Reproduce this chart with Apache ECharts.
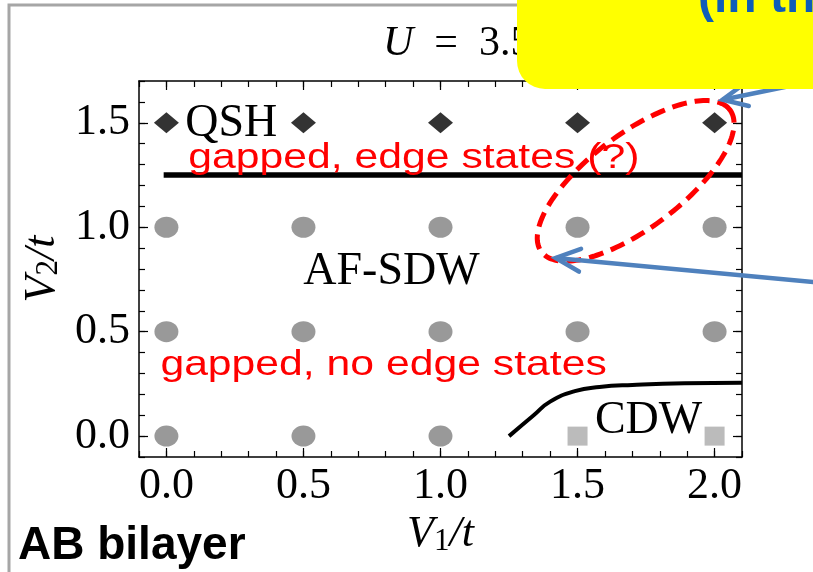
<!DOCTYPE html>
<html><head><meta charset="utf-8">
<script src="https://cdn.jsdelivr.net/npm/echarts@6/dist/echarts.min.js"></script>
<style>html,body{margin:0;padding:0;background:#fff}#c{width:813px;height:572px}</style>
</head><body><div id="c"></div>
<script>
// ---- data ----
const xTickLabels = [0, 0.5, 1, 1.5, 2];
const yTickLabels = [0, 0.5, 1, 1.5];
const qshPoints = [[0,1.5],[0.5,1.5],[1,1.5],[1.5,1.5],[2,1.5]];
const sdwPoints = [[0,1],[0.5,1],[1,1],[1.5,1],[2,1],[0,0.5],[0.5,0.5],[1,0.5],[1.5,0.5],[2,0.5],[0,0],[0.5,0],[1,0]];
const cdwPoints = [[1.5,0],[2,0]];
const upperBoundary = [[-0.01,1.25],[2.1,1.25]];
const lowerBoundary = [[1.25,0.0],[1.34,0.10],[1.40,0.165],[1.49,0.215],[1.58,0.235],[1.70,0.245],[1.89,0.253],[2.1,0.255]];
// annotation anchors (data coordinates)
const regionLabels = [
  {text:'QSH', at:[0.069,1.495], align:'left', size:46},
  {text:'AF-SDW', at:[0.821,0.786], align:'center', size:46},
  {text:'CDW', at:[1.759,0.072], align:'center', size:46}
];
const redNotes = [
  {text:'gapped, edge states (?)', at:[0.080,1.330]},
  {text:'gapped, no edge states', at:[-0.022,0.338]}
];
const ellipseCenter = [1.712, 1.222];
const arrows = [
  {tip:[1.420,0.853], tail:[2.361,0.738]},
  {tip:[2.029,1.610], tail:[2.314,1.687]}
];

const serif = '"Liberation Serif","DejaVu Serif",serif';
const sans = '"Liberation Sans",Arial,sans-serif';
const nameRich = {
  i:{fontFamily:serif, fontStyle:'italic', fontSize:44, color:'#000'},
  s:{fontFamily:serif, fontSize:31, color:'#000', verticalAlign:'bottom', lineHeight:44}
};
const lineCol = '#000';
function baseAxis(extra){
  return Object.assign({
    type:'value', splitLine:{show:false},
    axisLine:{show:true, onZero:false, lineStyle:{color:lineCol, width:1.5}},
    axisTick:{show:true, inside:true, length:6, lineStyle:{color:lineCol, width:1.2}},
    axisLabel:{show:false}
  }, extra);
}
const xr = {min:-0.1, max:2.1, interval:0.1};
const yr = {min:-0.1, max:1.7, interval:0.1};
const hiddenLine = {show:false, onZero:false};
function majorTicks(vals){ return {show:true, inside:true, length:9, customValues:vals, lineStyle:{color:lineCol,width:1.2}}; }
const option = {
  animation:false,
  backgroundColor:'#fff',
  title:{text:'{i|U}\u2002=\u20023.5', left:378, top:18,
    textStyle:{fontFamily:serif, fontSize:42, fontWeight:'normal', color:'#000',
      rich:{i:{fontFamily:serif, fontStyle:'italic', fontSize:42, color:'#000'}}}},
  grid:{left:139, right:71, top:81, bottom:115, containLabel:false, outerBoundsMode:'none'},
  xAxis:[
    baseAxis(Object.assign({position:'bottom',
      axisLabel:{show:true, customValues:xTickLabels, formatter:v=>v.toFixed(1), fontFamily:serif, fontSize:44, color:'#000', margin:7},
      name:'{i|V}{s|1}{i|/t}', nameLocation:'middle', nameGap:52, nameTextStyle:{rich:nameRich}}, xr)),
    baseAxis(Object.assign({position:'top'}, xr)),
    baseAxis(Object.assign({position:'bottom', axisLine:hiddenLine, axisTick:majorTicks(xTickLabels)}, xr)),
    baseAxis(Object.assign({position:'top', axisLine:hiddenLine, axisTick:majorTicks(xTickLabels)}, xr))
  ],
  yAxis:[
    baseAxis(Object.assign({position:'left',
      axisLabel:{show:true, customValues:yTickLabels, formatter:v=>v.toFixed(1), fontFamily:serif, fontSize:44, color:'#000', margin:9},
      name:'{i|V}{s|2}{i|/t}', nameLocation:'middle', nameRotate:90, nameGap:62, nameTextStyle:{rich:nameRich}}, yr)),
    baseAxis(Object.assign({position:'right'}, yr)),
    baseAxis(Object.assign({position:'left', axisLine:hiddenLine, axisTick:majorTicks(yTickLabels)}, yr)),
    baseAxis(Object.assign({position:'right', axisLine:hiddenLine, axisTick:majorTicks(yTickLabels)}, yr))
  ],
  series:[
    {type:'line', data:upperBoundary, showSymbol:false, symbol:'none', lineStyle:{color:'#000', width:5.5}, z:3},
    {type:'line', data:lowerBoundary, smooth:true, showSymbol:false, symbol:'none', lineStyle:{color:'#000', width:4}, z:3},
    {type:'scatter', name:'QSH', data:qshPoints, symbol:'diamond', symbolSize:[25,21], itemStyle:{color:'#000'}, z:4},
    {type:'scatter', name:'AF-SDW', data:sdwPoints, symbol:'circle', symbolSize:[24,21], itemStyle:{color:'#808080'}, z:4},
    {type:'scatter', name:'CDW', data:cdwPoints, symbol:'rect', symbolSize:[20,19], itemStyle:{color:'#aaaaaa'}, z:4}
  ]
};
const chart = echarts.init(document.getElementById('c'));
chart.setOption(option);

function px(p){ return chart.convertToPixel({xAxisIndex:0, yAxisIndex:0}, p); }
const g = [];
// slide frame
g.push({type:'rect', shape:{x:9, y:5, width:900, height:700}, style:{fill:'none', stroke:'#a6a6a6', lineWidth:3}, z:1});
// region labels
regionLabels.forEach(r=>{
  const p = px(r.at);
  g.push({type:'text', x:p[0], y:p[1], z:20, style:{text:r.text, font:r.size+'px '+serif, fill:'#000', align:r.align, textAlign:r.align, verticalAlign:'middle', textVerticalAlign:'middle'}});
});
// red notes
redNotes.forEach(r=>{
  const p = px(r.at);
  g.push({type:'text', x:p[0], y:p[1], scaleX:1.22, z:21, style:{text:r.text, font:'35px '+sans, fill:'#ff0000', align:'left', textAlign:'left', verticalAlign:'middle', textVerticalAlign:'middle'}});
});
// dashed ellipse
(function(){
  const c = px(ellipseCenter), a = 118, b = 47, th = 37*Math.PI/180;
  const pts = [];
  for (let k=0;k<180;k++){
    const t = k/180*2*Math.PI;
    pts.push([c[0] + a*Math.cos(t)*Math.cos(th) - b*Math.sin(t)*Math.sin(th),
              c[1] - (a*Math.cos(t)*Math.sin(th) + b*Math.sin(t)*Math.cos(th))]);
  }
  g.push({type:'polygon', shape:{points:pts}, z:30, style:{fill:'none', stroke:'#ff0000', lineWidth:5, lineDash:[15,8]}});
})();
// arrows
arrows.forEach(ar=>{
  const t = px(ar.tip), s = px(ar.tail);
  const dx = s[0]-t[0], dy = s[1]-t[1], L = Math.hypot(dx,dy);
  const ux = dx/L, uy = dy/L, h = 27, ang = 25*Math.PI/180;
  const w1 = [t[0] + h*(ux*Math.cos(ang) - uy*Math.sin(ang)), t[1] + h*(ux*Math.sin(ang) + uy*Math.cos(ang))];
  const w2 = [t[0] + h*(ux*Math.cos(-ang) - uy*Math.sin(-ang)), t[1] + h*(ux*Math.sin(-ang) + uy*Math.cos(-ang))];
  g.push({type:'polyline', shape:{points:[s,t]}, z:40, style:{stroke:'#4f81bd', lineWidth:4.5, fill:'none'}});
  g.push({type:'polyline', shape:{points:[w1,t,w2]}, z:40, style:{stroke:'#4f81bd', lineWidth:4.5, fill:'none', lineJoin:'miter', lineCap:'round'}});
});
// yellow callout box and its text
g.push({type:'rect', shape:{x:517, y:-40, width:340, height:129, r:28}, z:100, style:{fill:'#ffff00'}});
g.push({type:'text', x:698, y:-1, z:101, style:{text:'(in the', font:'bold 48px '+sans, fill:'#0e5db8', align:'left', textAlign:'left', verticalAlign:'middle', textVerticalAlign:'middle'}});
// slide caption
g.push({type:'text', x:18, y:546, z:101, style:{text:'AB bilayer', font:'bold 46px '+sans, fill:'#000', align:'left', textAlign:'left', verticalAlign:'middle', textVerticalAlign:'middle'}});
chart.setOption({graphic:{elements:g}});
</script>
</body></html>
